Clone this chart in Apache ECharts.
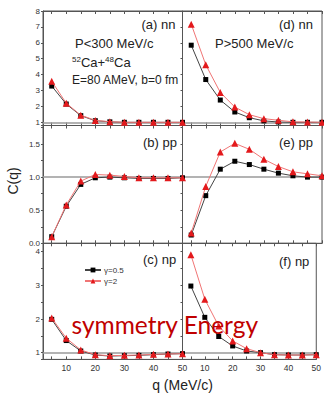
<!DOCTYPE html>
<html>
<head>
<meta charset="utf-8">
<script src="https://cdn.jsdelivr.net/npm/echarts@6/dist/echarts.min.js"></script>
<style>
  html, body { margin: 0; padding: 0; background: #fff; }
  #chart { width: 324px; height: 393px; }
</style>
</head>
<body>
<div id="chart"></div>
<script>
// relative momentum q (MeV/c)
const q = [5, 10, 15, 20, 25, 30, 35, 40, 45, 50];

// total pair momentum P < 300 MeV/c
const nnLowSoft  = [3.28, 2.15, 1.42, 1.10, 1.03, 1.00, 1.00, 1.00, 1.00, 1.00];
const nnLowStiff = [3.58, 2.20, 1.45, 1.12, 1.04, 1.00, 1.00, 1.00, 1.00, 1.00];
const ppLowSoft  = [0.10, 0.56, 0.89, 0.99, 1.00, 0.99, 0.98, 0.98, 0.98, 0.99];
const ppLowStiff = [0.10, 0.58, 0.94, 1.04, 1.03, 1.01, 0.99, 0.99, 0.99, 0.99];
const npLowSoft  = [1.99, 1.36, 1.05, 0.93, 0.90, 0.91, 0.92, 0.94, 0.96, 0.97];
const npLowStiff = [2.03, 1.43, 1.08, 0.94, 0.91, 0.92, 0.93, 0.95, 0.96, 0.97];

// total pair momentum P > 500 MeV/c
const nnHighSoft  = [5.85, 3.69, 2.40, 1.65, 1.29, 1.09, 1.02, 1.00, 1.00, 1.00];
const nnHighStiff = [7.17, 4.62, 2.88, 1.96, 1.48, 1.23, 1.13, 1.03, 1.02, 1.00];
const ppHighSoft  = [0.125, 0.72, 1.12, 1.24, 1.19, 1.12, 1.06, 1.02, 1.00, 1.00];
const ppHighStiff = [0.155, 0.86, 1.38, 1.51, 1.42, 1.27, 1.16, 1.08, 1.05, 1.02];
const npHighSoft  = [2.98, 2.05, 1.48, 1.20, 1.05, 1.00, 0.94, 0.93, 0.93, 0.94];
const npHighStiff = [3.91, 2.59, 1.79, 1.35, 1.12, 1.00, 0.94, 0.93, 0.93, 0.94];

const softName = 'γ=0.5';
const stiffName = 'γ=2';

// y scales per row: nn, pp, np
const yScales = [
  { min: 0.8, max: 8,    step: 1,    labelStep: 1,   digits: 0 },
  { min: 0,   max: 1.78, step: 0.25, labelStep: 0.5, digits: 1 },
  { min: 0.8, max: 4.25, step: 0.5,  labelStep: 1,   digits: 0 }
];
const rows = [
  { top: 11,    height: 114.5 },
  { top: 125.5, height: 117.8 },
  { top: 243.3, height: 116.1 }
];
const cols = [
  { left: 43,    width: 139.5 },
  { left: 182.5, width: 139.5 }
];
const panelData = [
  [[nnLowSoft, nnLowStiff], [ppLowSoft, ppLowStiff], [npLowSoft, npLowStiff]],
  [[nnHighSoft, nnHighStiff], [ppHighSoft, ppHighStiff], [npHighSoft, npHighStiff]]
];

const FONT = '"Liberation Sans", Arial, sans-serif';
const axisColor = '#555';

const grid = [], xAxis = [], yAxis = [], series = [];

function isMultiple(v, s) {
  return Math.abs(v / s - Math.round(v / s)) < 1e-6;
}

cols.forEach((c, ci) => {
  rows.forEach((r, ri) => {
    const gi = grid.length;
    grid.push({
      left: c.left, top: r.top, width: c.width, height: r.height,
      show: true, borderColor: axisColor, borderWidth: 1, backgroundColor: 'transparent'
    });
    const xBase = {
      type: 'value', gridIndex: gi, min: 2, max: 50, minInterval: 5, maxInterval: 5,
      splitLine: { show: false },
      axisLine: { show: true, onZero: false, lineStyle: { color: axisColor, width: 1 } },
      axisTick: { show: true, inside: true, length: 3, lineStyle: { color: axisColor } }
    };
    // bottom axis
    xAxis.push(Object.assign({}, xBase, {
      position: 'bottom',
      axisLabel: {
        show: ri === 2, fontSize: 8.5, color: '#333', fontFamily: FONT, margin: 4,
        formatter: v => (isMultiple(v, 10) ? String(v) : '')
      }
    }));
    // top frame axis
    xAxis.push(Object.assign({}, xBase, {
      position: 'top', axisLabel: { show: false }
    }));
    const ys = yScales[ri];
    yAxis.push({
      type: 'value', gridIndex: gi, min: ys.min, max: ys.max,
      minInterval: ys.step, maxInterval: ys.step,
      splitLine: { show: false },
      axisLine: { show: true, onZero: false, lineStyle: { color: axisColor, width: 1 } },
      axisTick: { show: true, inside: false, length: 2, lineStyle: { color: axisColor } },
      axisLabel: {
        show: ci === 0, fontSize: 8, lineHeight: 7, color: '#333', fontFamily: FONT, margin: 3,
        formatter: v => (isMultiple(v, ys.labelStep) && v >= ys.min + 1e-9 || (v === 0 && ys.min === 0)
          ? v.toFixed(ys.digits) : '')
      }
    });
    const [soft, stiff] = panelData[ci][ri];
    series.push({
      type: 'line', name: softName, xAxisIndex: gi * 2, yAxisIndex: gi,
      data: q.map((x, i) => [x, soft[i]]),
      symbol: 'rect', symbolSize: 5, showAllSymbol: true,
      itemStyle: { color: '#000' },
      lineStyle: { color: '#444', width: 1 },
      z: 3,
      markLine: {
        silent: true, symbol: 'none', label: { show: false },
        lineStyle: { color: '#9a9a9a', width: 1.5, type: 'solid' },
        data: [{ yAxis: 1 }], z: 1
      }
    });
    series.push({
      type: 'line', name: stiffName, xAxisIndex: gi * 2, yAxisIndex: gi,
      data: q.map((x, i) => [x, stiff[i]]),
      symbol: 'triangle', symbolSize: 7,
      itemStyle: { color: '#e3191c' },
      lineStyle: { color: '#f07575', width: 1 },
      z: 4
    });
  });
});

function label(text, x, y, size, extra) {
  return Object.assign({
    type: 'text', x: x, y: y, z: 100,
    style: Object.assign({
      text: text, font: size + 'px ' + FONT, fill: '#222',
      align: 'left', verticalAlign: 'middle',
      textAlign: 'left', textVerticalAlign: 'middle'
    }, extra || {})
  });
}

const graphic = [
  label('(a) nn', 141.5, 24, 13),
  label('(d) nn', 279, 24, 13),
  label('(b) pp', 143, 142.7, 13),
  label('(e) pp', 279, 142.7, 13),
  label('(c) np', 143, 259, 13),
  label('(f) np', 279, 261, 13),
  label('P<300 MeV/c', 75, 43, 13),
  label('P>500 MeV/c', 215, 43.5, 13),
  {
    type: 'text', x: 72, y: 62, z: 100,
    style: {
      text: '{s|52}{n|Ca+}{s|48}{n|Ca}', font: '13px ' + FONT, fill: '#222',
      align: 'left', verticalAlign: 'middle', textAlign: 'left', textVerticalAlign: 'middle',
      rich: {
        n: { fontSize: 13, fontFamily: FONT, fill: '#222', color: '#222' },
        s: { fontSize: 8, fontFamily: FONT, fill: '#222', color: '#222', verticalAlign: 'top' }
      }
    }
  },
  label('E=80 AMeV, b=0 fm', 72, 80, 12),
  {
    type: 'text', x: 71.5, y: 324, z: 100,
    style: {
      text: 'symmetry Energy', font: '24.5px Lato, "Open Sans", sans-serif', fill: '#c00000',
      align: 'left', verticalAlign: 'middle', textAlign: 'left', textVerticalAlign: 'middle'
    }
  },
  {
    type: 'text', x: 13, y: 181, rotation: Math.PI / 2, z: 100,
    style: {
      text: 'C(q)', font: '14px ' + FONT, fill: '#222',
      align: 'center', verticalAlign: 'middle', textAlign: 'center', textVerticalAlign: 'middle'
    }
  },
  {
    type: 'text', x: 182.5, y: 385, z: 100,
    style: {
      text: 'q (MeV/c)', font: '14px ' + FONT, fill: '#222',
      align: 'center', verticalAlign: 'middle', textAlign: 'center', textVerticalAlign: 'middle'
    }
  }
];

const chart = echarts.init(document.getElementById('chart'), null, { renderer: 'svg' });
chart.setOption({
  backgroundColor: '#fff',
  animation: false,
  textStyle: { fontFamily: FONT },
  grid: grid,
  xAxis: xAxis,
  yAxis: yAxis,
  series: series,
  legend: {
    show: true, orient: 'vertical', left: 84, top: 266,
    itemWidth: 16, itemHeight: 6, itemGap: 3, padding: 0,
    textStyle: { fontSize: 8, color: '#333', fontFamily: FONT, padding: [0, 0, 0, -2] },
    data: [softName, stiffName],
    selectedMode: false
  },
  graphic: graphic
});
</script>
</body>
</html>
